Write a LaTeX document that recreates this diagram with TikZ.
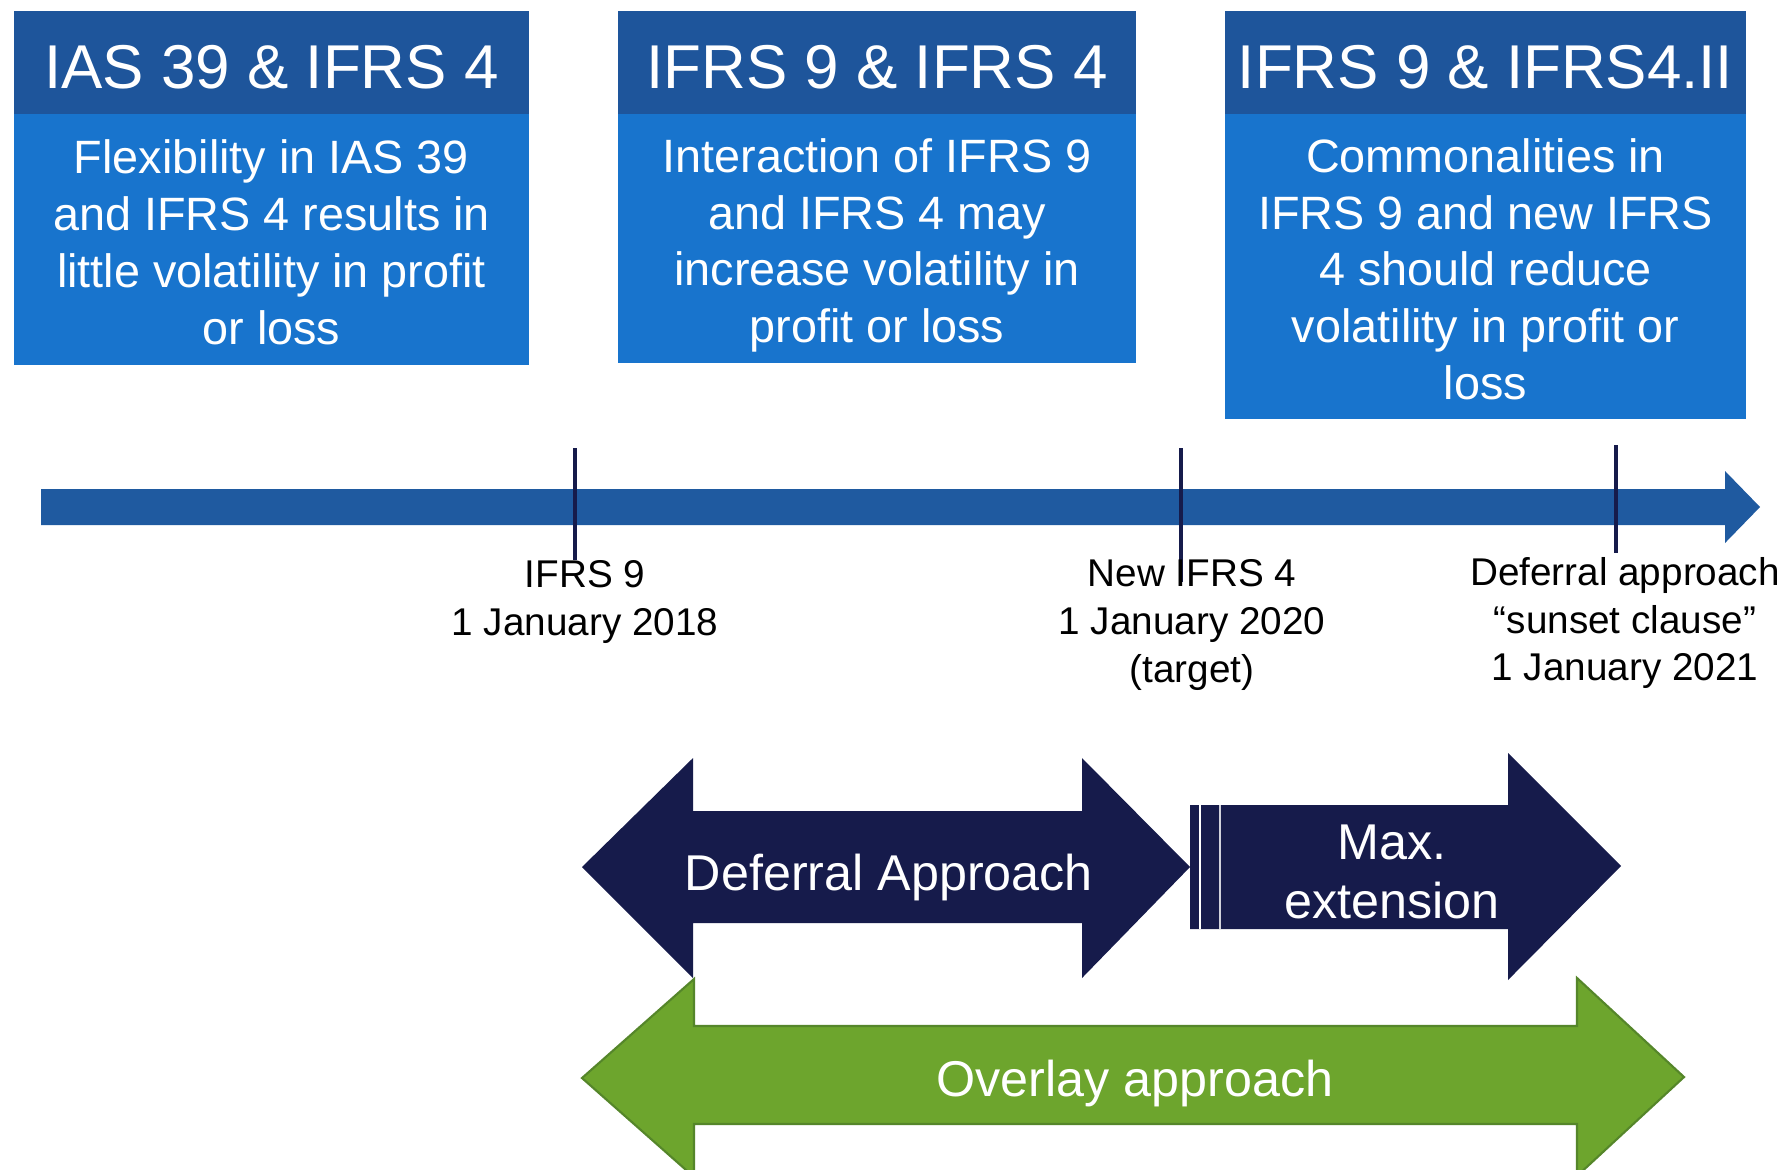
\documentclass[tikz,border=0pt]{standalone}
\usepackage{fontspec}
\setmainfont{Liberation Sans}
\usetikzlibrary{positioning}

\definecolor{hdblue}{HTML}{1E559B}
\definecolor{bdblue}{HTML}{1874CD}
\definecolor{lineblue}{HTML}{1F5AA0}
\definecolor{navy}{HTML}{161B4B}
\definecolor{ovgreen}{HTML}{6DA52D}
\definecolor{ovedge}{HTML}{55862A}
\newcommand{\upstrut}{\rule{0pt}{13.5pt}}
\newcommand{\lowstrut}{\rule[-2.5pt]{0pt}{2.5pt}}

\begin{document}
\begin{tikzpicture}[x=0.01cm, y=0.01cm,
  hdr/.style={fill=hdblue, text=white, font=\fontsize{17.6}{20}\selectfont, text height=16pt, text depth=1.4pt, minimum height=1.03cm, inner sep=0pt, outer sep=0pt},
  bodybox/.style={fill=bdblue, text=white, align=center, font=\fontsize{13.3}{16.2}\selectfont, inner sep=0pt, outer sep=0pt},
  datelbl/.style={align=center, font=\fontsize{11}{13.6}\selectfont, inner sep=0pt},
  tick/.style={draw=navy, line width=0.9pt},
  arrlbl/.style={text=white, align=center, font=\fontsize{14.3}{16.9}\selectfont, inner sep=0pt}]
  \useasboundingbox (0,0) rectangle (1789,-1169);
  \fill[white] (0,0) rectangle (1789,-1169);
  \clip (0,0) rectangle (1789,-1169);

  % the three periods
  \node[hdr, minimum width=5.15cm] (hd1) at (271.5,-62.5) {IAS 39 \& IFRS 4};
  \node[bodybox, minimum width=5.15cm, minimum height=2.51cm, below=0pt of hd1] (bd1) {\upstrut Flexibility in IAS 39\\and IFRS 4 results in\\little volatility in profit\\or loss\lowstrut};
  \node[hdr, minimum width=5.18cm] (hd2) at (877,-62.5) {IFRS 9 \& IFRS 4};
  \node[bodybox, minimum width=5.18cm, minimum height=2.49cm, below=0pt of hd2] (bd2) {\upstrut Interaction of IFRS 9\\and IFRS 4 may\\increase volatility in\\profit or loss\lowstrut};
  \node[hdr, minimum width=5.21cm] (hd3) at (1485.5,-62.5) {IFRS 9 \& IFRS4.II};
  \node[bodybox, minimum width=5.21cm, minimum height=3.05cm, below=0pt of hd3] (bd3) {\upstrut Commonalities in\\IFRS 9 and new IFRS\\4 should reduce\\volatility in profit or\\loss\lowstrut};

  % timeline
  \fill[lineblue] (41,-489) -- (1725,-489) -- (1725,-471) -- (1760,-507) -- (1725,-543) -- (1725,-525) -- (41,-525) -- cycle;
  \draw[tick] (575,-448) -- (575,-560);
  \draw[tick] (1181,-448) -- (1181,-582);
  \draw[tick] (1616,-445) -- (1616,-553);
  \node[datelbl] (d2018) at (585,-602) {IFRS 9\\1 January 2018};
  \node[datelbl] (d2020) at (1192,-625) {New IFRS 4\\1 January 2020\\(target)};
  \node[datelbl] (d2021) at (1625,-623) {Deferral approach\\``sunset clause''\\1 January 2021};

  % approaches
  \fill[navy] (582,-867) -- (693,-758) -- (693,-811) -- (1082,-811) -- (1082,-758) -- (1190,-867)
    -- (1082,-978) -- (1082,-923) -- (693,-923) -- (693,-978) -- cycle;
  \node[arrlbl] (defer) at (889,-877) {Deferral Approach};
  \fill[navy] (1190,-805) -- (1508,-805) -- (1508,-753) -- (1621,-866) -- (1508,-980) -- (1508,-929) -- (1190,-929) -- cycle;
  \draw[white, line width=0.5pt] (1200,-805) -- (1200,-929);
  \draw[white!80!navy, line width=0.5pt] (1220,-805) -- (1220,-929);
  \node[arrlbl] (maxext) at (1392,-872) {Max.\\extension};
  \filldraw[fill=ovgreen, draw=ovedge, line width=0.6pt] (582,-1078) -- (694,-979) -- (694,-1026) -- (1577,-1026)
    -- (1577,-978) -- (1684,-1077) -- (1577,-1176) -- (1577,-1124) -- (694,-1124) -- (694,-1177) -- cycle;
  \node[arrlbl] (overlay) at (1135,-1083) {Overlay approach};
\end{tikzpicture}
\end{document}
